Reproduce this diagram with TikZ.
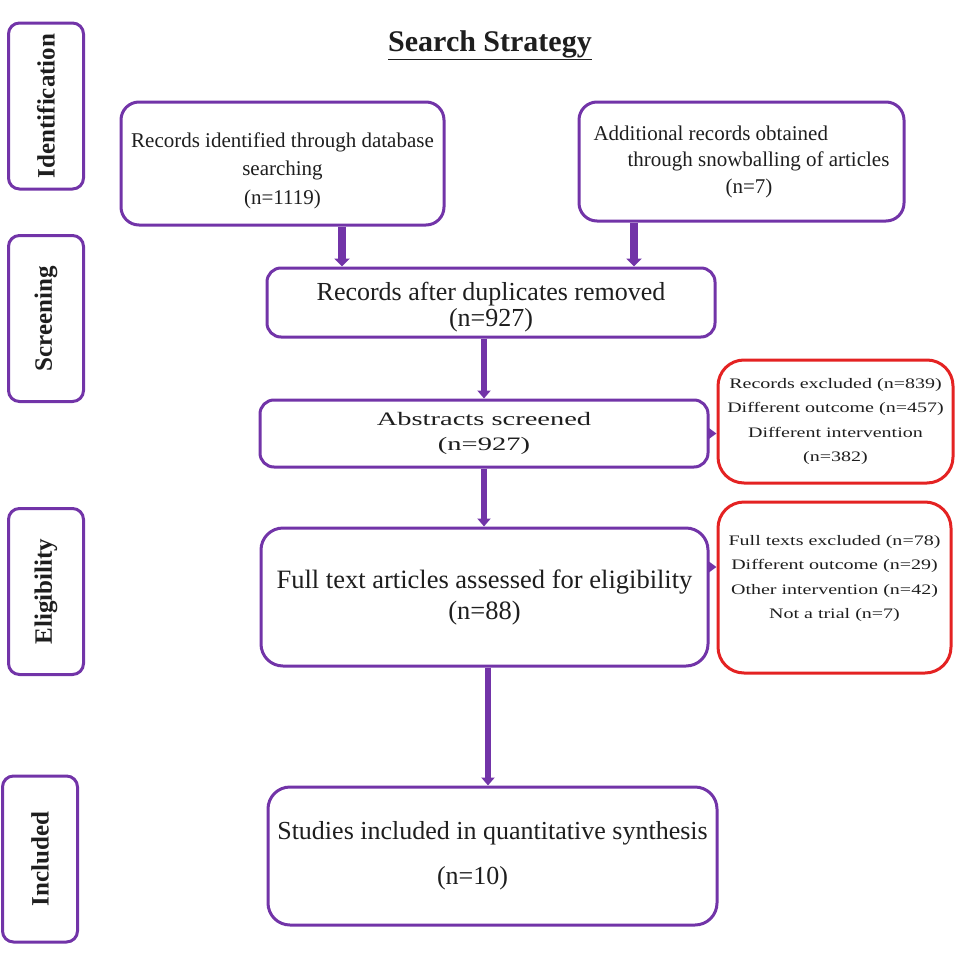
\documentclass[tikz,border=0pt]{standalone}
\usepackage{fontspec}
\setmainfont{Liberation Serif}
\newfontfamily\absfont[FakeStretch=1.5]{Liberation Serif}
\newfontfamily\exfont[FakeStretch=1.38]{Liberation Serif}
\usetikzlibrary{arrows.meta}
\definecolor{prisma}{RGB}{114,52,168}
\definecolor{exred}{RGB}{228,34,34}
\definecolor{ink}{RGB}{30,30,30}
\tikzset{
	phase/.style={draw=prisma,line width=3pt,rounded corners=11pt,rotate=90,minimum width=166pt,minimum height=75pt,inner sep=0pt,text=ink,font=\fontsize{25}{30}\selectfont\bfseries},
	stepbox/.style={draw=prisma,line width=3pt,rounded corners=18pt,inner sep=0pt,align=center,text=ink},
	exbox/.style={draw=exred,line width=3pt,rounded corners=26pt,inner sep=0pt,align=center,text=ink,font=\exfont\fontsize{14.5}{24.5}\selectfont},
	flow/.style={draw=prisma,line width=5.5pt,-{Triangle[width=13pt,length=8pt]}},
}
\begin{document}
\begin{tikzpicture}[x=1pt,y=-1pt]
	\useasboundingbox (0,0) rectangle (969,953);
	\node[phase] (ident) at (46,106) {Identification};
	\node[phase] (screen) at (46,318.5) {Screening};
	\node[phase] (elig) at (46,591.5) {Eligibility};
	\node[phase] (incl) at (40,859) {Included};
	\node[text=ink,font=\fontsize{30}{36}\selectfont\bfseries] (title) at (490,45) {\underline{Search Strategy}};

	\node[stepbox,minimum width=323pt,minimum height=123pt,font=\fontsize{21}{28.5}\selectfont] (rec) at (282.5,163.5) {\rule{0pt}{29pt}Records identified through database\\searching\\(n=1119)};
	\node[stepbox,minimum width=325pt,minimum height=119pt,align=left,font=\fontsize{21}{26.5}\selectfont] (add) at (741.5,161.5) {Additional records obtained\\\hspace*{34pt}through snowballing of articles\\\hspace*{132pt}(n=7)};
	\node[stepbox,minimum width=448pt,minimum height=69pt,rounded corners=14pt,font=\fontsize{26}{26}\selectfont] (dup) at (491,302.5) {\rule{0pt}{28pt}Records after duplicates removed\\(n=927)};
	\node[stepbox,minimum width=448pt,minimum height=67pt,rounded corners=14pt,font=\absfont\fontsize{19}{25}\selectfont] (abs) at (484,433.5) {Abstracts screened\\(n=927)};
	\node[stepbox,minimum width=447pt,minimum height=138pt,rounded corners=22pt,font=\fontsize{26.5}{31}\selectfont] (full) at (484.5,597) {Full text articles assessed for eligibility\\(n=88)};
	\node[stepbox,minimum width=449pt,minimum height=138pt,rounded corners=22pt,font=\fontsize{26}{45}\selectfont] (stud) at (492.5,856) {Studies included in quantitative synthesis\\\hspace*{-40pt}(n=10)};

	\node[exbox,minimum width=235pt,minimum height=123pt] (excabs) at (835.5,421.5) {Records excluded (n=839)\\Different outcome (n=457)\\Different intervention\\(n=382)};
	\node[exbox,minimum width=233pt,minimum height=171pt] (excfull) at (834.5,587.5) {Full texts excluded (n=78)\\Different outcome (n=29)\\Other intervention (n=42)\\Not a trial (n=7)\rule[-21pt]{0pt}{21pt}};

	\draw[flow,line width=8pt,-{Triangle[width=15pt,length=8pt]}] ([xshift=59.5pt]rec.south) -- ([xshift=59.5pt]rec.south |- dup.north);
	\draw[flow,line width=8pt,-{Triangle[width=15pt,length=8pt]}] ([xshift=-107.5pt]add.south) -- ([xshift=-107.5pt]add.south |- dup.north);
	\draw[flow] (dup.south -| abs.north) -- (abs.north);
	\draw[flow] (abs.south) -- (abs.south |- full.north);
	\draw[flow] ([xshift=3.5pt]full.south) -- ([xshift=3.5pt]full.south |- stud.north);
	\draw[flow,line width=3pt,-{Triangle[width=11pt,length=8pt]}] (abs.east) -- (abs.east -| excabs.west);
	\draw[flow,line width=3pt,-{Triangle[width=11pt,length=8pt]}] ([yshift=30pt]full.east) -- ([yshift=30pt]full.east -| excfull.west);
\end{tikzpicture}
\end{document}
